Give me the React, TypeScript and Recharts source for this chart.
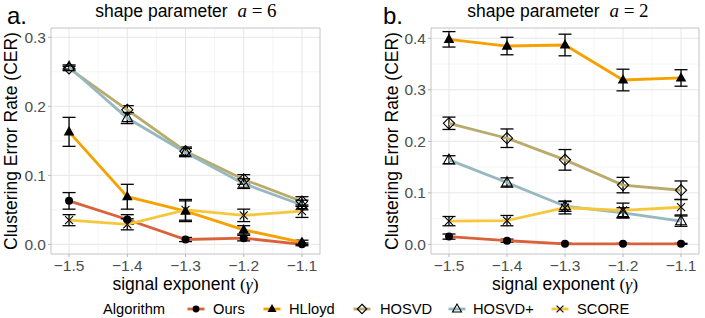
import React from 'react';
import { ComposedChart, Line, XAxis, YAxis, CartesianGrid, ErrorBar, ReferenceArea } from 'recharts';

// ---------- data ----------
const gammas = [-1.5, -1.4, -1.3, -1.2, -1.1];
const seriesNames = ['Ours', 'HLloyd', 'HOSVD', 'HOSVD+', 'SCORE'];
const seriesKeys = ['ours', 'hlloyd', 'hosvd', 'hosvdp', 'score'];
const seriesColors = ['#D9623B', '#F5A100', '#B8AB6C', '#97B8BF', '#F4C83A'];
const seriesShapes = ['circle', 'triangleFilled', 'diamond', 'triangleOpen', 'cross'];

// panel a: shape parameter a = 6
const aOurs = [0.063, 0.036, 0.007, 0.009, 0.0];
const aOursErr = [0.012, 0.007, 0.003, 0.004, 0.002];
const aHLloyd = [0.163, 0.069, 0.048, 0.021, 0.003];
const aHLloydErr = [0.021, 0.018, 0.015, 0.006, 0.003];
const aHOSVD = [0.255, 0.195, 0.135, 0.094, 0.062];
const aHOSVDErr = [0.003, 0.006, 0.006, 0.007, 0.007];
const aHOSVDp = [0.257, 0.183, 0.133, 0.088, 0.057];
const aHOSVDpErr = [0.003, 0.008, 0.006, 0.007, 0.007];
const aScore = [0.035, 0.029, 0.05, 0.042, 0.048];
const aScoreErr = [0.008, 0.008, 0.015, 0.009, 0.009];

// panel b: shape parameter a = 2
const bOurs = [0.015, 0.007, 0.001, 0.001, 0.001];
const bOursErr = [0.005, 0.003, 0.001, 0.001, 0.001];
const bHLloyd = [0.398, 0.385, 0.387, 0.319, 0.323];
const bHLloydErr = [0.015, 0.017, 0.021, 0.021, 0.016];
const bHOSVD = [0.235, 0.206, 0.164, 0.115, 0.105];
const bHOSVDErr = [0.012, 0.018, 0.02, 0.015, 0.018];
const bHOSVDp = [0.164, 0.12, 0.074, 0.061, 0.045];
const bHOSVDpErr = [0.008, 0.009, 0.01, 0.01, 0.01];
const bScore = [0.045, 0.046, 0.071, 0.066, 0.072];
const bScoreErr = [0.009, 0.01, 0.012, 0.014, 0.015];

const xDomain = [-1.531, -1.069];
const xMinor = [-1.45, -1.35, -1.25, -1.15];
const aYTicks = [0, 0.1, 0.2, 0.3];
const aYMinor = [0.05, 0.15, 0.25];
const aYDomain = [-0.014, 0.3135];
const bYTicks = [0, 0.1, 0.2, 0.3, 0.4];
const bYMinor = [0.05, 0.15, 0.25, 0.35];
const bYDomain = [-0.0188, 0.42];

const buildTable = (vals: number[][], errs: number[][]) =>
  gammas.map((g, i) => {
    const row: Record<string, number> = { gamma: g };
    seriesKeys.forEach((k, s) => {
      row[k] = vals[s][i];
      row[k + 'Err'] = errs[s][i];
    });
    return row;
  });

const tableA = buildTable(
  [aOurs, aHLloyd, aHOSVD, aHOSVDp, aScore],
  [aOursErr, aHLloydErr, aHOSVDErr, aHOSVDpErr, aScoreErr]
);
const tableB = buildTable(
  [bOurs, bHLloyd, bHOSVD, bHOSVDp, bScore],
  [bOursErr, bHLloydErr, bHOSVDErr, bHOSVDpErr, bScoreErr]
);

// ---------- styles ----------
const SANS = '"Liberation Sans", Arial, Helvetica, sans-serif';
const SERIF = '"Liberation Serif", "DejaVu Serif", serif';

const Marker = ({ shape, cx, cy, k = 1 }: { shape: string; cx: number; cy: number; k?: number }) => {
  if (cx == null || cy == null) return null;
  switch (shape) {
    case 'circle':
      return <circle cx={cx} cy={cy} r={4 * k} fill="#000" />;
    case 'triangleFilled':
      return <polygon points={`${cx},${cy - 5.8 * k} ${cx - 5.3 * k},${cy + 3.6 * k} ${cx + 5.3 * k},${cy + 3.6 * k}`} fill="#000" />;
    case 'triangleOpen':
      return (
        <polygon
          points={`${cx},${cy - 5.8 * k} ${cx - 5.3 * k},${cy + 3.6 * k} ${cx + 5.3 * k},${cy + 3.6 * k}`}
          fill="none"
          stroke="#000"
          strokeWidth={1.1}
        />
      );
    case 'diamond':
      return (
        <polygon
          points={`${cx},${cy - 5.6 * k} ${cx + 5.6 * k},${cy} ${cx},${cy + 5.6 * k} ${cx - 5.6 * k},${cy}`}
          fill="none"
          stroke="#000"
          strokeWidth={1.1}
        />
      );
    case 'cross':
      return (
        <g stroke="#000" strokeWidth={1.1}>
          <line x1={cx - 4 * k} y1={cy - 4 * k} x2={cx + 4 * k} y2={cy + 4 * k} />
          <line x1={cx - 4 * k} y1={cy + 4 * k} x2={cx + 4 * k} y2={cy - 4 * k} />
        </g>
      );
    default:
      return null;
  }
};

const fmtX = (v: number) => v.toFixed(1).replace('-', '\u2212');
const fmtY = (v: number) => v.toFixed(1);

type PanelProps = {
  data: Record<string, number>[];
  yTicks: number[];
  yMinor: number[];
  yDomain: number[];
  width: number;
  margin: { top: number; right: number; bottom: number; left: number };
};

const Panel = ({ data, yTicks, yMinor, yDomain, width, margin }: PanelProps) => (
  <ComposedChart width={width} height={285} data={data} margin={margin}>
    <CartesianGrid
      horizontalValues={yMinor}
      verticalValues={xMinor}
      stroke="#f0f0f0"
      strokeWidth={0.7}
    />
    <CartesianGrid
      horizontalValues={yTicks}
      verticalValues={gammas}
      stroke="#e6e6e6"
      strokeWidth={1}
    />
    <XAxis
      type="number"
      dataKey="gamma"
      domain={xDomain}
      ticks={gammas}
      allowDataOverflow
      tickFormatter={fmtX}
      height={31}
      axisLine={false}
      tickSize={3}
      tickMargin={3}
      tickLine={{ stroke: '#b3b3b3' }}
      tick={{ fill: '#4d4d4d', fontSize: 15.5, fontFamily: SANS }}
    />
    <YAxis
      type="number"
      domain={yDomain}
      ticks={yTicks}
      allowDataOverflow
      tickFormatter={fmtY}
      width={51}
      axisLine={false}
      tickSize={3}
      tickMargin={2}
      tickLine={{ stroke: '#b3b3b3' }}
      tick={{ fill: '#4d4d4d', fontSize: 15.5, fontFamily: SANS }}
    />
    <ReferenceArea
      x1={xDomain[0]}
      x2={xDomain[1]}
      y1={yDomain[0]}
      y2={yDomain[1]}
      fill="none"
      fillOpacity={0}
      stroke="#c4c4c4"
      strokeWidth={1}
      ifOverflow="visible"
    />
    {seriesKeys.map((k, s) => (
      <Line
        key={k}
        dataKey={k}
        stroke={seriesColors[s]}
        strokeWidth={2.8}
        isAnimationActive={false}
        activeDot={false}
        dot={(p: any) => <Marker key={`${k}-${p.index}`} shape={seriesShapes[s]} cx={p.cx} cy={p.cy} />}
      >
        <ErrorBar dataKey={k + 'Err'} direction="y" width={6.5} stroke="#000" strokeWidth={1.3} isAnimationActive={false} />
      </Line>
    ))}
  </ComposedChart>
);

const legendX = [196, 272, 362, 457, 560];
const legendLabelX = [213, 289, 380, 473, 577];

export default function App() {
  return (
    <div style={{ position: 'absolute', left: 0, top: 0, width: 705, height: 318, background: '#fff', overflow: 'hidden' }}>
      <div style={{ position: 'absolute', left: 0, top: 0 }}>
        <Panel data={tableA} yTicks={aYTicks} yMinor={aYMinor} yDomain={aYDomain} width={352} margin={{ top: 28, right: 32, bottom: 0, left: 0 }} />
      </div>
      <div style={{ position: 'absolute', left: 352, top: 0 }}>
        <Panel data={tableB} yTicks={bYTicks} yMinor={bYMinor} yDomain={bYDomain} width={353} margin={{ top: 28, right: 6, bottom: 0, left: 28 }} />
      </div>
      <svg width={705} height={318} style={{ position: 'absolute', left: 0, top: 0, pointerEvents: 'none' }}>
        {/* panel tags */}
        <text x={7} y={23.5} fontFamily={SANS} fontSize={24} fill="#000">a.</text>
        <text x={383} y={23.5} fontFamily={SANS} fontSize={24} fill="#000">b.</text>
        {/* titles */}
        <text x={186} y={17} textAnchor="middle" fontFamily={SANS} fontSize={17.5} fill="#000">
          shape parameter{'\u00a0\u00a0'}
          <tspan fontFamily={SERIF} fontStyle="italic" fontSize={19}>a</tspan>
          <tspan fontFamily={SERIF} fontSize={19}>{' = 6'}</tspan>
        </text>
        <text x={558} y={17} textAnchor="middle" fontFamily={SANS} fontSize={17.5} fill="#000">
          shape parameter{'\u00a0\u00a0'}
          <tspan fontFamily={SERIF} fontStyle="italic" fontSize={19}>a</tspan>
          <tspan fontFamily={SERIF} fontSize={19}>{' = 2'}</tspan>
        </text>
        {/* y titles */}
        <text transform="translate(16.5,141) rotate(-90)" textAnchor="middle" fontFamily={SANS} fontSize={17.5} fill="#000">
          Clustering Error Rate (CER)
        </text>
        <text transform="translate(397.5,141) rotate(-90)" textAnchor="middle" fontFamily={SANS} fontSize={17.5} fill="#000">
          Clustering Error Rate (CER)
        </text>
        {/* x titles */}
        {[185.5, 565].map((cx) => (
          <text key={cx} x={cx} y={290} textAnchor="middle" fontFamily={SANS} fontSize={17.5} fill="#000">
            signal exponent{' '}
            <tspan fontFamily={SERIF}>(</tspan>
            <tspan fontFamily={SERIF} fontStyle="italic">{'\u03b3'}</tspan>
            <tspan fontFamily={SERIF}>)</tspan>
          </text>
        ))}
        {/* legend */}
        <text x={103} y={314} fontFamily={SANS} fontSize={14.7} fill="#000">Algorithm</text>
        {seriesNames.map((name, s) => (
          <g key={name}>
            <line x1={legendX[s] - 8.5} x2={legendX[s] + 8.5} y1={309} y2={309} stroke={seriesColors[s]} strokeWidth={2.8} />
            <Marker shape={seriesShapes[s]} cx={legendX[s]} cy={309} k={0.85} />
            <text x={legendLabelX[s]} y={314} fontFamily={SANS} fontSize={14.7} fill="#000">{name}</text>
          </g>
        ))}
      </svg>
    </div>
  );
}
